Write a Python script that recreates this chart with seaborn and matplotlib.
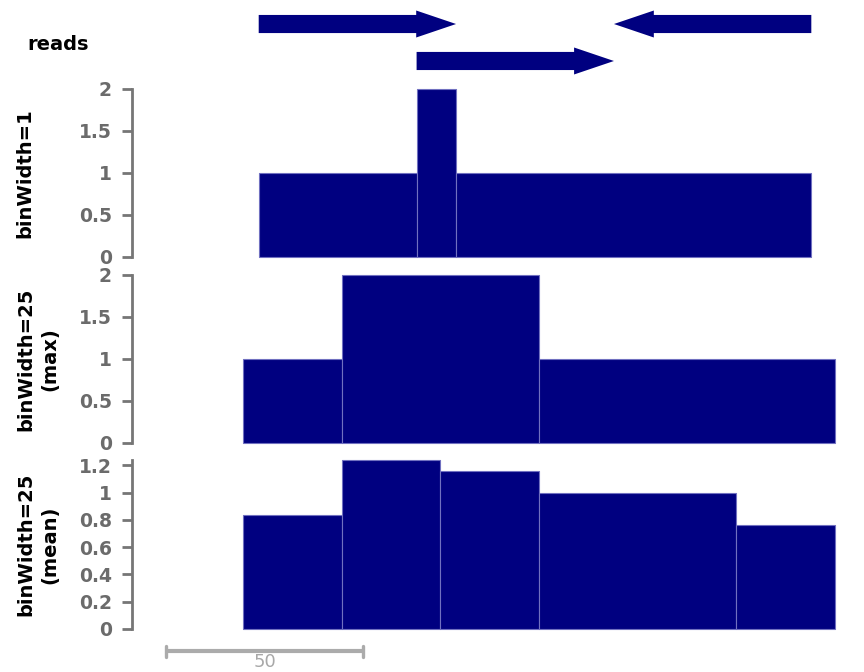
import numpy as np
import seaborn as sns
import matplotlib.pyplot as plt

# reads: [start, end) positions, strand, stacking row
read_start = [5, 45, 95]
read_end = [55, 95, 145]
read_strand = ['+', '+', '-']
read_row = [1, 2, 1]

# coverage at binWidth=1 (runs of equal depth)
cov_start = [5, 45, 55]
cov_end = [45, 55, 145]
cov_value = [1, 2, 1]

# binWidth=25 windows
bin_width = 25
bin_start = [1, 26, 51, 76, 101, 126]
bin_max = [1, 2, 2, 1, 1, 1]
bin_mean = [0.84, 1.24, 1.16, 1.0, 1.0, 0.76]

track_titles = ['binWidth=1', 'binWidth=25\n(max)', 'binWidth=25\n(mean)']
scale_len = 50

NAVY = '#000080'
EDGE = '#7070c0'
AXIS_GREY = '#767676'
LABEL_GREY = '#6b6b6b'

sns.set_theme(style='white')
plt.rcParams['font.family'] = ['DejaVu Sans']
plt.rcParams['font.weight'] = 'bold'
plt.rcParams['ytick.labelsize'] = 13.5
plt.rcParams['ytick.labelcolor'] = LABEL_GREY

W, H = 864, 672
fig = plt.figure(figsize=(W / 100, H / 100), dpi=100)

# visible genome window (px 132..850)
x_lo, x_hi = -27.1, 154.8


def px_axes(x0, y0, x1, y1):
    return fig.add_axes([x0 / W, 1 - y1 / H, (x1 - x0) / W, (y1 - y0) / H])


def merge_runs(starts, ends, vals):
    s, e, v = [starts[0]], [ends[0]], [vals[0]]
    for a, b, c in zip(starts[1:], ends[1:], vals[1:]):
        if c == v[-1] and a == e[-1]:
            e[-1] = b
        else:
            s.append(a); e.append(b); v.append(c)
    return s, e, v


def data_track(ax, starts, ends, vals, ymax, ticks):
    s, e, v = merge_runs(starts, ends, vals)
    edges = s + [e[-1]]
    mids = [(a + b) / 2 for a, b in zip(s, e)]
    sns.histplot(x=mids, weights=v, bins=edges, ax=ax, color=NAVY, alpha=1,
                 edgecolor=EDGE, linewidth=0.8)
    for p in ax.patches:
        p.set_clip_on(False)
    ax.set_xlim(x_lo, x_hi)
    ax.set_ylim(0, ymax)
    ax.set_xlabel('')
    ax.set_ylabel('')
    ax.set_xticks([])
    for sp in ['top', 'right', 'bottom']:
        ax.spines[sp].set_visible(False)
    ax.spines['left'].set_color(AXIS_GREY)
    ax.spines['left'].set_linewidth(2.0)
    ax.set_yticks(ticks, ['%g' % t for t in ticks])
    ax.tick_params(axis='y', direction='out', length=7.5, width=2.0,
                   color=AXIS_GREY, labelcolor=LABEL_GREY, labelsize=13.5,
                   pad=7, left=True)
    ax.patch.set_alpha(0)


# reads track
ax_r = px_axes(132, 5, 850, 80)
ax_r.set_xlim(x_lo, x_hi)
ax_r.set_ylim(2.514, 0.486)
ax_r.axis('off')
for s, e, strand, row in zip(read_start, read_end, read_strand, read_row):
    x0, dx = (s, e - s) if strand == '+' else (e, -(e - s))
    ax_r.arrow(x0, row, dx, 0, width=0.49, head_width=0.73, head_length=10.1,
               length_includes_head=True, fc=NAVY, ec=NAVY, lw=0)
fig.text(58 / W, 1 - 44 / H, 'reads', ha='center', va='center',
         fontsize=14, fontweight='bold', color='black')

# coverage tracks
bin_end = [b + bin_width for b in bin_start]
ax1 = px_axes(132, 89, 850, 257)
data_track(ax1, cov_start, cov_end, cov_value, 2, [0, 0.5, 1, 1.5, 2])
ax2 = px_axes(132, 275, 850, 443)
data_track(ax2, bin_start, bin_end, bin_max, 2, [0, 0.5, 1, 1.5, 2])
ax3 = px_axes(132, 460, 850, 629)
data_track(ax3, bin_start, bin_end, bin_mean, max(bin_mean), [0, 0.2, 0.4, 0.6, 0.8, 1, 1.2])

for title, ax in zip(track_titles, [ax1, ax2, ax3]):
    bb = ax.get_position()
    fig.text(38 / W if '\n' in title else 25 / W, bb.y0 + bb.height / 2, title,
             rotation=90, ha='center', va='center', ma='center',
             fontsize=14, fontweight='bold', color='black', linespacing=1.3)

# scale bar
ax_s = px_axes(132, 636, 850, 672)
ax_s.set_xlim(x_lo, x_hi)
ax_s.set_ylim(0, 1)
ax_s.axis('off')
sc_mid = 6.5
sc0, sc1 = sc_mid - scale_len / 2, sc_mid + scale_len / 2
ax_s.plot([sc0, sc1], [0.57, 0.57], color='#ababab', lw=3.0, solid_capstyle='butt')
for x in (sc0, sc1):
    ax_s.plot([x, x], [0.43, 0.72], color='#ababab', lw=2.4, solid_capstyle='round')
ax_s.text(sc_mid, 0.03, str(scale_len), ha='center', va='bottom', fontsize=13,
          fontweight='normal', color='#a8a8a8')

fig.savefig('out.png', dpi=100)
